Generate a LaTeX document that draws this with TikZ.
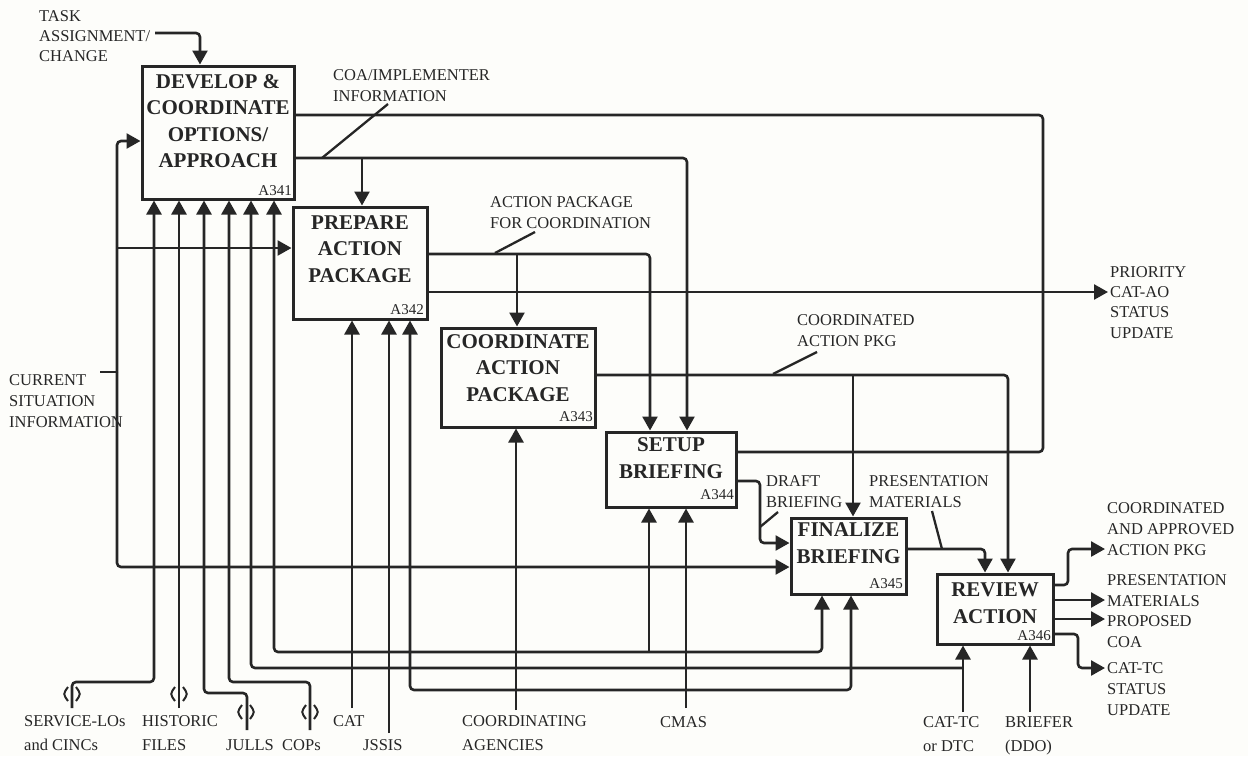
\documentclass[tikz,border=0pt]{standalone}
\usepackage{fontspec}
\setmainfont{Liberation Serif}
\usetikzlibrary{arrows.meta,calc}
\definecolor{ink}{HTML}{262626}
\definecolor{bg}{HTML}{FDFDFA}
\begin{document}
\begin{tikzpicture}[x=1pt,y=-1pt,
  ln/.style={line width=2.6pt, draw=ink, rounded corners=4pt},
  ar/.style={ln, -{Triangle[length=14pt,width=15pt]}},
  ld/.style={line width=2.3pt, draw=ink},
  box/.style={draw=ink, fill=bg, line width=3pt, inner sep=0pt},
  ttl/.style={font=\bfseries\fontsize{21}{26.5}\selectfont, align=center, text=ink, inner sep=0pt},
  idl/.style={font=\fontsize{15}{17}\selectfont, text=ink, inner sep=0pt, anchor=base east},
  lab/.style={font=\fontsize{16.5}{21}\selectfont, align=left, anchor=north west, inner sep=0pt, text=ink},
  blab/.style={lab, font=\fontsize{16.5}{24}\selectfont},
  tunnel/.pic={\draw[line width=2pt, ink] (-4,-7) .. controls (-9,0) .. (-4,7);
               \draw[line width=2pt, ink] (4,-7) .. controls (9,0) .. (4,7);}
]
\useasboundingbox (0,0) rectangle (1248,756);
\fill[bg] (0,0) rectangle (1248,756);

% boxes
\node[box, minimum width=152pt, minimum height=133pt] (a341) at (218,132.5) {};
\node[box, minimum width=134pt, minimum height=112pt] (a342) at (360,263) {};
\node[box, minimum width=154pt, minimum height=99pt]  (a343) at (518,377.5) {};
\node[box, minimum width=130pt, minimum height=75pt]  (a344) at (671,469.5) {};
\node[box, minimum width=115pt, minimum height=76pt]  (a345) at (848.5,556) {};
\node[box, minimum width=116pt, minimum height=70pt]  (a346) at (995,609) {};

% titles
\node[ttl] (t341) at (218,121) {DEVELOP \&\\COORDINATE\\OPTIONS/\\APPROACH};
\node[ttl] (t342) at (360,249) {PREPARE\\ACTION\\PACKAGE};
\node[ttl] (t343) at (518,368) {COORDINATE\\ACTION\\PACKAGE};
\node[ttl] (t344) at (671,458) {SETUP\\BRIEFING};
\node[ttl] (t345) at (848.5,543) {FINALIZE\\BRIEFING};
\node[ttl] (t346) at (995,603) {REVIEW\\ACTION};

% ids
\node[idl] (i341) at (292,195) {A341};
\node[idl] (i342) at (424,314) {A342};
\node[idl] (i343) at (593,421) {A343};
\node[idl] (i344) at (734,499) {A344};
\node[idl] (i345) at (903,588) {A345};
\node[idl] (i346) at (1051,640) {A346};

% labels
\node[lab, font=\fontsize{16.5}{20}\selectfont] (ltask) at (39,10) {TASK\\ASSIGNMENT/\\CHANGE};
\node[lab] (lcoa) at (333,69) {COA/IMPLEMENTER\\INFORMATION};
\node[lab] (lapk) at (490,196) {ACTION PACKAGE\\FOR COORDINATION};
\node[lab, font=\fontsize{16.5}{20.3}\selectfont] (lprio) at (1110,266) {PRIORITY\\CAT-AO\\STATUS\\UPDATE};
\node[lab] (lcpk) at (797,314) {COORDINATED\\ACTION PKG};
\node[lab] (lcur) at (9,374) {CURRENT\\SITUATION\\INFORMATION};
\node[lab] (ldraft) at (766,475) {DRAFT\\BRIEFING};
\node[lab] (lpres) at (869,475) {PRESENTATION\\MATERIALS};
\node[lab] (lappr) at (1107,502) {COORDINATED\\AND APPROVED\\ACTION PKG};
\node[lab] (lpres2) at (1107,574) {PRESENTATION\\MATERIALS};
\node[lab] (lprop) at (1107,615) {PROPOSED\\COA};
\node[lab] (ltc) at (1107,662) {CAT-TC\\STATUS\\UPDATE};
\node[blab] (lsvc) at (24,715) {SERVICE-LOs\\and CINCs};
\node[blab] (lfil) at (142,715) {HISTORIC\\FILES};
\node[blab] (ljul) at (226,739) {JULLS};
\node[blab] (lcop) at (282,739) {COPs};
\node[blab] (lcat) at (333,715) {CAT};
\node[blab] (ljss) at (363,739) {JSSIS};
\node[blab] (lagn) at (462,715) {COORDINATING\\AGENCIES};
\node[blab] (lcmas) at (660,716) {CMAS};
\node[blab] (ltcb) at (923,716) {CAT-TC\\or DTC};
\node[blab] (lbrf) at (1005,716) {BRIEFER\\(DDO)};

% control
\coordinate (ctask) at (155,33);
\draw[ar] (ctask) -| (200,0 |- a341.north);

% A341 outputs
\draw[ln] (a341.east |- 0,115) -- (1043,115) -- (1043,452) -- (a344.east |- 0,452);
\draw[ar] (a341.east |- 0,158) -| (687,0 |- a344.north);
\draw[ar] (362,158) -- (362,0 |- a342.north);

% current situation
\coordinate (ccur) at (100,372);
\draw[ln] (ccur) -- (117,372);
\draw[ar] (117,372) |- (a341.west |- 0,141);
\draw[ar] (117,372) |- (a345.west |- 0,567);
\draw[ar] (117,248) -- (a342.west |- 0,248);

% A342 outputs
\draw[ar] (a342.east |- 0,254) -| (650,0 |- a344.north);
\draw[ar] (517,254) -- (517,0 |- a343.north);
\coordinate (cprio) at (1108,292);
\draw[ar] (a342.east |- 0,292) -- (cprio);

% A343 output
\draw[ar] (a343.east |- 0,375) -| (1008,0 |- a346.north);
\draw[ar] (853,375) -- (853,0 |- a345.north);

% A344 draft briefing
\draw[ar] (a344.east |- 0,481) -- (760,481) |- (a345.west |- 0,543);

% A345 output
\draw[ar] (a345.east |- 0,549) -| (985,0 |- a346.north);

% A346 outputs
\coordinate (oappr) at (1105,549);
\draw[ar] (a346.east |- 0,585) -- (1068,585) |- (oappr);
\coordinate (opres) at (1105,600);
\draw[ar] (a346.east |- 0,600) -- (opres);
\coordinate (oprop) at (1105,619);
\draw[ar] (a346.east |- 0,619) -- (oprop);
\coordinate (otc) at (1105,668);
\draw[ar] (a346.east |- 0,634) -- (1078,634) |- (otc);

% mechanisms
\coordinate (msvc) at (72,708);
\draw[ar] (msvc) -- (72,682) -| (154,0 |- a341.south);
\coordinate (mfil) at (179,708);
\draw[ar] (mfil) -- (179,0 |- a341.south);
\coordinate (mjul) at (247,730);
\draw[ar] (mjul) -- (247,693) -| (204,0 |- a341.south);
\coordinate (mcop) at (310,730);
\draw[ar] (mcop) -- (310,682) -| (229,0 |- a341.south);
\coordinate (mcat) at (352,708);
\draw[ar] (mcat) -- (352,0 |- a342.south);
\draw[ar] (352,652) -| (274,0 |- a341.south);
\draw[ar] (352,652) -| (822,0 |- a345.south);
\draw[ar] (649,652) -- (649,0 |- a344.south);
\coordinate (mjss) at (389,733);
\draw[ar] (mjss) -- (389,0 |- a342.south);
\coordinate (magn) at (516,710);
\draw[ar] (magn) -- (516,0 |- a343.south);
\coordinate (mcmas) at (686,708);
\draw[ar] (mcmas) -- (686,0 |- a344.south);
\draw[ar] (686,690) -| (410,0 |- a342.south);
\draw[ar] (686,690) -| (851,0 |- a345.south);
\coordinate (mtc) at (963,712);
\draw[ar] (mtc) -- (963,0 |- a346.south);
\draw[ar] (963,668) -| (251,0 |- a341.south);
\coordinate (mbrf) at (1030,712);
\draw[ar] (mbrf) -- (1030,0 |- a346.south);

% tunnels
\pic at (72,694) {tunnel};
\pic at (179,694) {tunnel};
\pic at (246,712) {tunnel};
\pic at (310,712) {tunnel};

% leader lines
\draw[ld] (388,104) -- (322,158);
\draw[ld] (535,232) -- (495,253);
\draw[ld] (817,352) -- (773,374);
\draw[ld] (778,512) -- (760,527);
\draw[ld] (932,511) -- (942,549);
\end{tikzpicture}
\end{document}
